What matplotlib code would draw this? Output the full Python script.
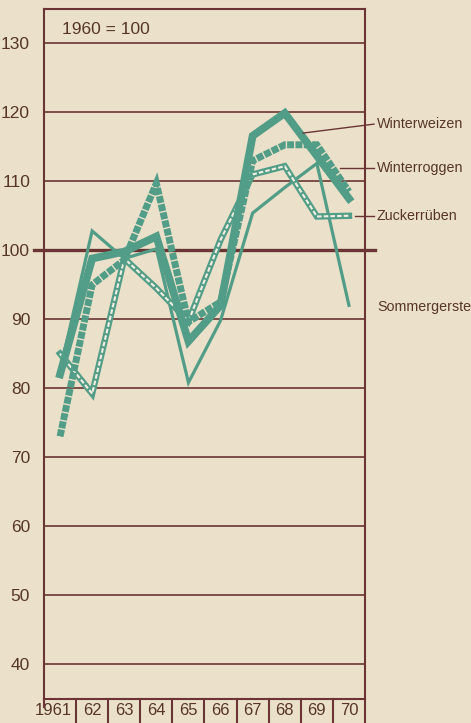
import matplotlib
matplotlib.use("Agg")
import matplotlib.pyplot as plt
import matplotlib.transforms as mtransforms

# ---- data ----
years = ["1961", "62", "63", "64", "65", "66", "67", "68", "69", "70"]
winterweizen = [82, 98.8, 99.8, 102, 86.8, 92, 116.6, 119.9, 113.7, 107.5]
winterroggen = [73, 95, 98.6, 109.7, 89.6, 92.5, 113, 115.3, 115.3, 108.5]
zuckerrueben = [85, 79.2, 98.8, 94.5, 89.7, 101.5, 111, 112.2, 104.9, 105]
sommergerste = [82.5, 102.8, 98.8, 100.2, 80.8, 89.8, 105.4, 109.1, 112.6, 92]
yticks = [40, 50, 60, 70, 80, 90, 100, 110, 120, 130]
series_names = ["Winterweizen", "Winterroggen", "Zuckerrüben", "Sommergerste"]
base_label = "1960 = 100"

# ---- style ----
BG = "#ebe1ca"
TEAL = "#529d87"
GRID = "#6a3534"
TXT = "#573529"
FONT = ["Liberation Sans", "DejaVu Sans"]
plt.rcParams["font.family"] = FONT

fig = plt.figure(figsize=(4.71, 7.23), dpi=100, facecolor=BG)
ax = fig.add_axes([44/471, 24/723, 321/471, 690/723])
ax.set_facecolor(BG)
ax.set_xlim(0, 10)
ax.set_ylim(34.9, 135)

xs = [i + 0.5 for i in range(len(years))]

# grid lines
for v in yticks:
    if v == 100:
        ax.plot([-0.31, 10.31], [v, v], color=GRID, lw=2.4, clip_on=False, zorder=2)
    else:
        ax.axhline(v, color=GRID, lw=1.2, zorder=1)

for s in ax.spines.values():
    s.set_color(GRID)
    s.set_linewidth(1.5)

ax.set_yticks(yticks)
ax.set_yticklabels([str(v) for v in yticks], fontsize=12.5, color=TXT)
ax.tick_params(axis="y", length=0, pad=10)
ax.set_xticks(xs)
ax.set_xticklabels(years, fontsize=12, color=TXT)
ax.tick_params(axis="x", length=0, pad=3)
first = ax.get_xticklabels()[0]
first.set_transform(first.get_transform() +
                    mtransforms.ScaledTranslation(-7/100, 0, fig.dpi_scale_trans))

# bin separators below axis
trans = mtransforms.blended_transform_factory(ax.transData, ax.transAxes)
for b in range(1, 11):
    ax.plot([b, b], [0, -0.036], color=GRID, lw=1.5, transform=trans, clip_on=False)
ax.plot([0, 0], [0, -0.012], color=GRID, lw=1.5, transform=trans, clip_on=False)

# series
ax.plot(xs, sommergerste, color=TEAL, lw=2.3, solid_joinstyle="miter", zorder=3)
ax.plot(xs, zuckerrueben, color=TEAL, lw=4.6, solid_joinstyle="miter", zorder=4)
ax.plot(xs, zuckerrueben, color="#f4efe2", lw=1.5, linestyle=(0, (2.2, 1.0)),
        dash_capstyle="butt", zorder=5)
ax.plot(xs, winterroggen, color=TEAL, lw=5.0, linestyle=(0, (1.0, 0.2)),
        dash_capstyle="butt", dash_joinstyle="miter", zorder=6)
ax.plot(xs, winterweizen, color=TEAL, lw=5.6, solid_joinstyle="miter", zorder=7)

# labels on the right
lab_x = 10.37
lab_y = [118.3, 112.0, 104.9, 91.8]
lead_from = [(8.07, 117.0), (9.22, 112.0), (9.69, 104.9), None]
for name, ly, lf in zip(series_names, lab_y, lead_from):
    ax.text(lab_x, ly, name, fontsize=10.3, color=TXT, va="center", ha="left",
            clip_on=False)
    if lf is not None:
        ax.plot([lf[0], 10.28], [lf[1], ly], color=GRID, lw=1.0, clip_on=False,
                zorder=8)

ax.text(0.56, 132.0, base_label, fontsize=12.5, color=TXT, va="center", ha="left")

fig.savefig("out.png", dpi=100, facecolor=BG)
